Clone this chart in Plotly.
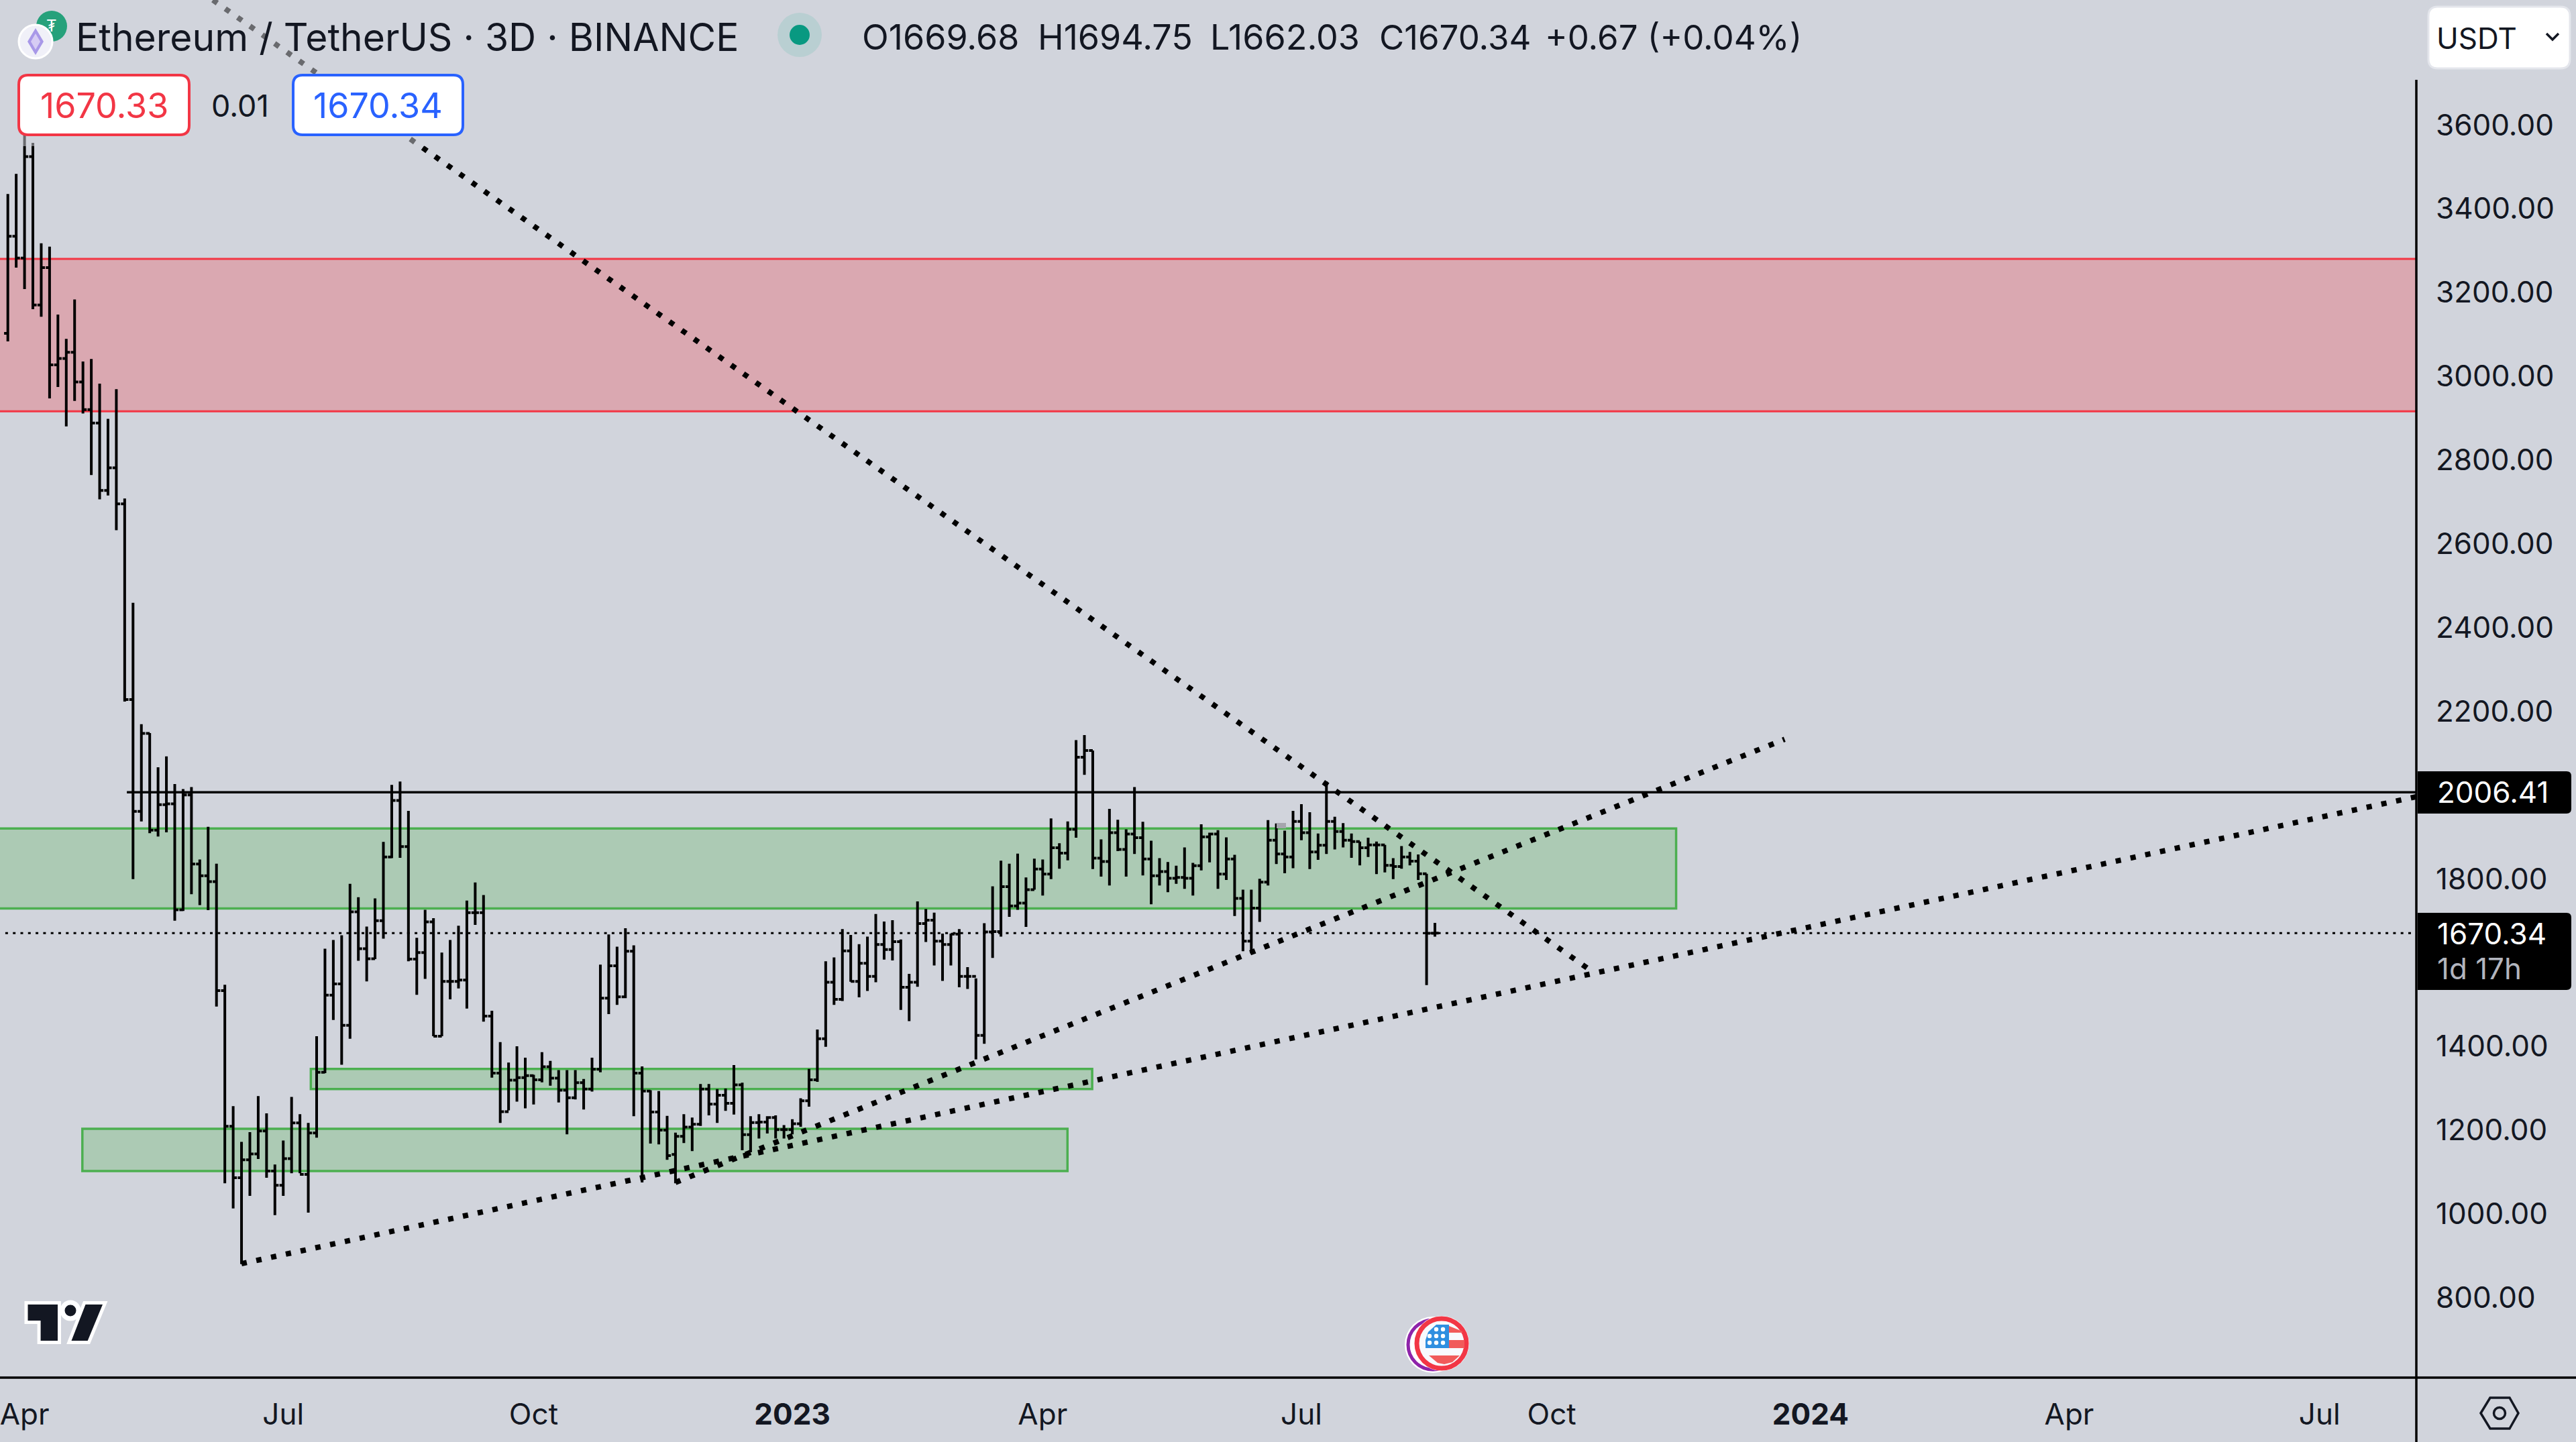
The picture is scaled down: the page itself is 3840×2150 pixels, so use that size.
import pandas as pd
import plotly.graph_objects as go

BG = "#d1d4dc"
FONT = "Inter"

open_ = [3102,3334,3282,3524,3170,3259,3027,3042,3057,2986,2920,2888,2727,2781,2695,2228,1961,2147,1916,1977,
         1979,1726,2000,1835,1807,1793,1533,1209,1086,1129,1143,1198,1102,1068,1132,1217,1094,1193,1338,1522,
         1549,1450,1721,1633,1609,1700,1852,1987,1877,1608,1624,1697,1424,1555,1555,1558,1719,1719,1472,1336,
         1244,1319,1325,1330,1320,1351,1324,1295,1277,1313,1298,1345,1515,1592,1518,1627,1336,1293,1243,1200,
         1142,1185,1207,1214,1298,1262,1283,1264,1308,1189,1218,1219,1230,1201,1201,1215,1270,1320,1418,1553,
         1512,1628,1555,1598,1567,1643,1631,1650,1541,1553,1693,1701,1651,1643,1668,1567,1567,1426,1673,1674,
         1781,1735,1742,1774,1823,1811,1874,1861,1918,2090,2106,1849,1841,1910,1870,1907,1898,1847,1807,1817,
         1801,1803,1801,1831,1900,1907,1811,1847,1753,1651,1730,1792,1892,1859,1852,1937,1910,1864,1880,1937,
         1913,1892,1889,1874,1881,1881,1832,1829,1852,1842,1812,1669.68]
high = [3435,3483,3590,3557,3317,3309,3147,3089,3183,3035,3041,2982,2898,2969,2708,2459,2169,2148,2066,2092,
        2026,2014,2019,1846,1924,1836,1547,1257,1172,1195,1281,1240,1118,1175,1279,1238,1217,1424,1633,1654,
        1665,1788,1756,1686,1753,1888,2024,2032,1962,1659,1726,1706,1624,1654,1688,1748,1791,1761,1485,1410,
        1361,1400,1373,1332,1386,1365,1343,1343,1343,1322,1373,1595,1667,1638,1682,1641,1352,1295,1293,1234,
        1194,1238,1230,1310,1310,1298,1299,1355,1313,1233,1238,1233,1235,1212,1226,1276,1346,1440,1603,1612,
        1680,1666,1644,1662,1716,1698,1701,1655,1573,1746,1728,1719,1669,1669,1680,1589,1562,1694,1782,1843,
        1836,1860,1803,1848,1846,1944,1885,1937,2131,2143,2106,1894,1967,1941,1918,2019,1936,1891,1849,1840,
        1831,1875,1838,1930,1910,1916,1899,1857,1774,1774,1800,1940,1932,1915,1962,1978,1959,1908,2032,1948,
        1933,1908,1889,1898,1889,1881,1849,1878,1864,1858,1812,1694.75]
low = [3083,3259,3208,3160,3142,2947,2974,2880,2941,2911,2764,2706,2715,2632,2223,1799,1937,1909,1901,1911,
       1700,1723,1763,1737,1725,1495,1073,1013,880,1043,1131,1086,997,1043,1097,1097,1003,1182,1336,1463,
       1356,1418,1604,1555,1608,1657,1849,1850,1603,1523,1561,1424,1424,1512,1538,1490,1690,1459,1325,1217,
       1247,1268,1252,1261,1314,1306,1266,1190,1273,1249,1292,1338,1477,1499,1515,1233,1075,1168,1166,1129,
       1073,1169,1150,1210,1235,1217,1246,1237,1152,1147,1180,1192,1180,1180,1190,1208,1256,1315,1399,1499,
       1508,1554,1517,1532,1553,1607,1605,1487,1460,1542,1649,1593,1556,1593,1541,1537,1369,1406,1611,1662,
       1709,1726,1685,1774,1760,1799,1824,1844,1898,2048,1823,1805,1784,1866,1805,1859,1808,1739,1784,1768,
       1788,1776,1760,1820,1839,1776,1797,1711,1627,1622,1697,1784,1835,1813,1825,1892,1823,1845,1859,1870,
       1875,1850,1832,1852,1811,1815,1799,1824,1832,1797,1546,1662.03]
close = [3334,3282,3524,3170,3259,3027,3042,3057,2986,2920,2888,2727,2781,2695,2228,1961,2147,1916,1977,1979,
         1726,2000,1835,1807,1793,1533,1209,1086,1129,1143,1198,1102,1068,1132,1217,1094,1193,1338,1522,1549,
         1450,1721,1633,1609,1700,1852,1987,1877,1608,1624,1697,1424,1555,1555,1558,1719,1719,1472,1336,1244,
         1319,1325,1330,1320,1351,1324,1295,1277,1313,1298,1345,1515,1592,1518,1627,1336,1293,1243,1200,1139,
         1185,1207,1214,1298,1262,1283,1264,1308,1189,1218,1219,1230,1201,1201,1215,1270,1320,1418,1553,1512,
         1628,1555,1598,1567,1643,1631,1650,1541,1553,1693,1701,1651,1643,1668,1567,1567,1426,1673,1674,1781,
         1735,1742,1774,1823,1811,1874,1861,1918,2090,2106,1849,1841,1910,1870,1907,1898,1847,1807,1817,1801,
         1803,1801,1831,1900,1907,1811,1847,1753,1651,1730,1792,1892,1859,1852,1937,1910,1864,1880,1937,1913,
         1892,1889,1874,1881,1881,1832,1829,1852,1842,1812,1669.67,1670.34]
bar_dates = pd.date_range("2022-03-23", periods=len(close), freq="3D")

x_range = ["2022-03-20 04:19", "2024-08-04 19:12"]
y_range = [609, 3898]

x_tick_vals = ["2022-03-29", "2022-06-30", "2022-09-28", "2022-12-30", "2023-03-30", "2023-07-01",
               "2023-09-29", "2023-12-31", "2024-04-02", "2024-07-01"]
x_tick_text = ["Apr", "Jul", "Oct", "<b>2023</b>", "Apr", "Jul", "Oct", "<b>2024</b>", "Apr", "Jul"]
y_tick_vals = [800, 1000, 1200, 1400, 1800, 2200, 2400, 2600, 2800, 3000, 3200, 3400, 3600]

zone_left = "2022-03-01"
zone_right = "2024-08-20"
red_zone = (zone_left, zone_right, 2916, 3280)
green_zones = [
    (zone_left, "2023-11-12 17:00", 1729, 1920),
    ("2022-07-09 22:00", "2023-04-16 19:00", 1298, 1346),
    ("2022-04-18 19:00", "2023-04-07 22:00", 1102, 1203),
]
level_price = 2006.41
level_start = "2022-05-04 19:00"
last_price = 1670.34
last_start = "2022-03-22 02:00"
trend_lines = [
    ("2022-06-04 17:00", 3898, "2023-10-13", 1581),
    ("2022-06-15", 881, "2024-08-04 19:12", 1996),
    ("2022-11-18", 1075, "2023-12-21 17:00", 2133),
]

W, H, PR, PB = 3840, 2150, 3602, 2054
X = lambda p: p / PR
Y = lambda p: 1 - p / PB


def path(points, close_path=True):
    s = "M " + " L ".join(f"{X(a):.6f},{Y(b):.6f}" for a, b in points)
    return s + (" Z" if close_path else "")


def rrect(x0, y0, x1, y1, r, right_only=False):
    rl = 0 if right_only else r
    return (f"M {X(x0+rl):.6f},{Y(y0):.6f} L {X(x1-r):.6f},{Y(y0):.6f} "
            f"Q {X(x1):.6f},{Y(y0):.6f} {X(x1):.6f},{Y(y0+r):.6f} "
            f"L {X(x1):.6f},{Y(y1-r):.6f} Q {X(x1):.6f},{Y(y1):.6f} {X(x1-r):.6f},{Y(y1):.6f} "
            f"L {X(x0+rl):.6f},{Y(y1):.6f} Q {X(x0):.6f},{Y(y1):.6f} {X(x0):.6f},{Y(y1-rl):.6f} "
            f"L {X(x0):.6f},{Y(y0+rl):.6f} Q {X(x0):.6f},{Y(y0):.6f} {X(x0+rl):.6f},{Y(y0):.6f} Z")


shapes = []


def pshape(d, fill=None, lc=None, lw=0, layer="above"):
    shapes.append(dict(type="path", path=d, xref="paper", yref="paper", layer=layer,
                       fillcolor=fill or "rgba(0,0,0,0)", line=dict(color=lc or "rgba(0,0,0,0)", width=lw)))


def circ(cx, cy, r, fill=None, lc=None, lw=0):
    shapes.append(dict(type="circle", xref="paper", yref="paper", layer="above",
                       x0=X(cx - r), x1=X(cx + r), y0=Y(cy + r), y1=Y(cy - r),
                       fillcolor=fill or "rgba(0,0,0,0)", line=dict(color=lc or "rgba(0,0,0,0)", width=lw)))


# zones and levels
shapes.append(dict(type="rect", xref="x", yref="y", x0=red_zone[0], x1=red_zone[1], y0=red_zone[2], y1=red_zone[3],
                   fillcolor="rgba(242,54,69,0.28)", line=dict(color="#f23645", width=3), layer="below"))
for z in green_zones:
    shapes.append(dict(type="rect", xref="x", yref="y", x0=z[0], x1=z[1], y0=z[2], y1=z[3],
                       fillcolor="rgba(76,175,80,0.28)", line=dict(color="#4caf50", width=3.5), layer="below"))
shapes.append(dict(type="line", xref="x", yref="y", x0=level_start, x1=x_range[1], y0=level_price, y1=level_price,
                   line=dict(color="#000", width=3.5), layer="above"))
shapes.append(dict(type="line", xref="x", yref="y", x0=last_start, x1=x_range[1], y0=last_price, y1=last_price,
                   line=dict(color="#000", width=3, dash="4px,7.3px"), layer="above"))
for t in trend_lines:
    shapes.append(dict(type="line", xref="x", yref="y", x0=t[0], y0=t[1], x1=t[2], y1=t[3],
                       line=dict(color="#000", width=8, dash="8px,14.5px"), layer="above"))

# small grey marker
pshape(path([(1903, 1227), (1917, 1227), (1917, 1235), (1903, 1235)]), fill="#a5a5ad")
# header fade
pshape(path([(0, 0), (PR, 0), (PR, 218), (0, 218)]), fill="rgba(209,212,220,0.5)")
# axis lines
pshape(path([(3602, 119), (3602, H)], False), lc="#000", lw=3.5)
pshape(path([(0, 2054), (W, 2054)], False), lc="#000", lw=3.5)

# buy / sell boxes
pshape(rrect(28, 112, 282, 201, 14), fill="#fff", lc="#f23645", lw=4)
pshape(rrect(437, 112, 690, 201, 14), fill="#fff", lc="#2962ff", lw=4)
# currency
pshape(rrect(3620, 10, 3831, 102, 14), fill="#fff", lc="#e4e6ec", lw=3)
pshape(path([(3796, 50), (3805, 59), (3814, 50)], False), lc="#131722", lw=3.5)
# price labels
pshape(rrect(3604, 1150, 3833, 1213, 7, True), fill="#000")
pshape(rrect(3604, 1361, 3833, 1476, 7, True), fill="#000")

# status dot
circ(1192, 52, 33, fill="#b9cfd2")
circ(1192, 52, 15, fill="#089981")
# symbol logos
circ(77, 39, 23, fill="#26a17b")
circ(53, 62, 25, fill="#f0f0f8", lc="#fff", lw=3)
pshape(path([(53, 42), (65, 62), (53, 82), (41, 62)]), fill="#a898e8")
pshape(path([(53, 50), (60, 62), (53, 74), (46, 62)]), fill="#d6ccf4")

# TradingView logo
LOGO = "#131722"
pshape(path([(41.5, 1945), (86, 1945), (86, 1999), (60.6, 1999), (60.6, 1969), (41.5, 1969)]), fill=LOGO, lc="#fff", lw=10)
pshape(path([(127.5, 1945), (153, 1945), (130.7, 1999), (106.5, 1999)]), fill=LOGO, lc="#fff", lw=10)
circ(105, 1954, 12, fill=LOGO, lc="#fff", lw=7)
pshape(path([(41.5, 1945), (86, 1945), (86, 1999), (60.6, 1999), (60.6, 1969), (41.5, 1969)]), fill=LOGO)
pshape(path([(127.5, 1945), (153, 1945), (130.7, 1999), (106.5, 1999)]), fill=LOGO)

# economic event flag
circ(2136, 2005, 42, fill="#fff")
circ(2136, 2005, 37, fill="#fff", lc="#8e24aa", lw=5)
circ(2149, 2003, 41, fill="#fff")
circ(2149, 2003, 37, fill="#f8f9fd", lc="#f23645", lw=7)
pshape(path([(2160, 1977), (2180, 1985), (2180, 1987), (2160, 1987)]), fill="#f15a5a")
pshape(path([(2160, 1998), (2183, 1998), (2183, 2010), (2160, 2010)]), fill="#f15a5a")
pshape(path([(2130, 2021), (2176, 2021), (2165, 2031), (2153, 2034), (2143, 2032)]), fill="#f15a5a")
pshape(path([(2160, 1975), (2141, 1975), (2129, 1986), (2125, 1998), (2125, 2010), (2160, 2010)]), fill="#2f8fe0")
for sx, sy in [(2141, 1982), (2151, 1982), (2131, 1992), (2141, 1992), (2151, 1992),
               (2131, 2002), (2141, 2002), (2151, 2002)]:
    circ(sx, sy, 3.2, fill="#fff")

# settings icon
pshape(path([(3698, 2107), (3712, 2084), (3741, 2084), (3754, 2107), (3741, 2130), (3712, 2130)]), lc="#131722", lw=3.5)
circ(3726, 2107, 8.5, lc="#131722", lw=3.5)


def ann(px, py, text, size, color="#131722", anchor="left", family=FONT):
    return dict(x=X(px), y=Y(py), xref="paper", yref="paper", text=text, showarrow=False,
                xanchor=anchor, yanchor="middle", borderpad=0,
                font=dict(family=family, size=size, color=color))


annotations = [
    ann(112, 55, "Ethereum / TetherUS · 3D · BINANCE", 57),
    ann(77, 39, "₮", 24, "#fff", "center"),
    ann(1284, 55, "O1669.68", 52),
    ann(1546, 55, "H1694.75", 52),
    ann(1803, 55, "L1662.03", 52),
    ann(2055, 55, "C1670.34", 51),
    ann(2302, 55, "+0.67 (+0.04%)", 51),
    ann(155, 158, "1670.33", 52, "#f23645", "center"),
    ann(358, 158, "0.01", 45, "#131722", "center"),
    ann(563, 158, "1670.34", 52, "#2962ff", "center"),
    ann(3631, 57, "USDT", 44),
    ann(3632, 1181, "2006.41", 44, "#fff"),
    ann(3632, 1392, "1670.34", 44, "#fff"),
    ann(3632, 1444, "1d 17h", 44, "#b2b5be"),
]

fig = go.Figure(go.Ohlc(
    x=bar_dates, open=open_, high=high, low=low, close=close,
    increasing=dict(line=dict(color="#000", width=4)),
    decreasing=dict(line=dict(color="#000", width=4)),
    tickwidth=0.45, hoverinfo="skip", showlegend=False,
))
fig.update_layout(
    width=W, height=H, autosize=False,
    margin=dict(l=0, r=W - PR, t=0, b=H - PB, pad=0),
    paper_bgcolor=BG, plot_bgcolor=BG, showlegend=False,
    shapes=shapes, annotations=annotations,
    font=dict(family=FONT, color="#131722", size=44),
    xaxis=dict(type="date", range=x_range, rangeslider=dict(visible=False), showgrid=False, zeroline=False,
               tickmode="array", tickvals=x_tick_vals, ticktext=x_tick_text, ticks="", showline=False,
               ticklabeloverflow="allow",
               tickfont=dict(family=FONT, size=44, color="#131722"), ticklabelstandoff=25),
    yaxis=dict(range=y_range, side="right", showgrid=False, zeroline=False, tickmode="array",
               tickvals=y_tick_vals, ticktext=[f"{v:.2f}" for v in y_tick_vals], ticks="", showline=False,
               tickfont=dict(family=FONT, size=44, color="#131722"), ticklabelstandoff=28),
)
fig.write_html("out.html", config=dict(displayModeBar=False),
               post_script="document.body.style.margin='0';document.body.style.overflow='hidden';")
